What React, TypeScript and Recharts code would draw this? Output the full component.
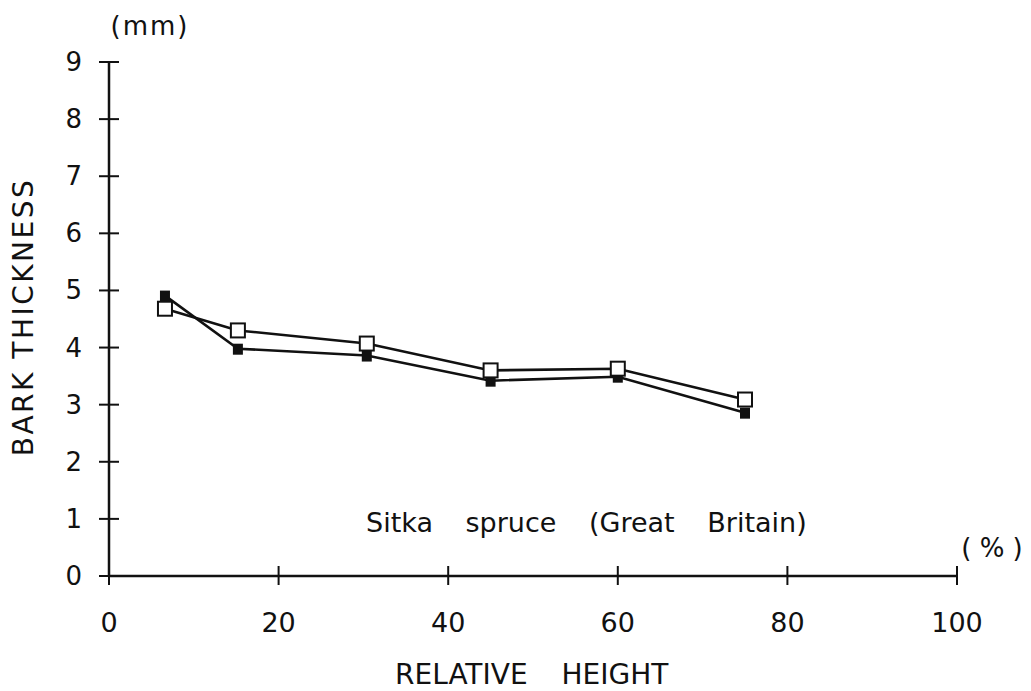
import { Line, LineChart, XAxis, YAxis } from "recharts";

// relative height (%) of each sampling point along the stem
const relativeHeight = [6.6, 15.2, 30.4, 45, 60, 75];
// bark thickness (mm), open-square series
const barkOpen = [4.68, 4.3, 4.07, 3.6, 3.63, 3.09];
// bark thickness (mm), filled-square series
const barkFilled = [4.91, 3.98, 3.86, 3.42, 3.49, 2.86];

const xTicks = [0, 20, 40, 60, 80, 100];
const yTicks = [0, 1, 2, 3, 4, 5, 6, 7, 8, 9];

const data = relativeHeight.map((h, i) => ({
  height: h,
  open: barkOpen[i],
  filled: barkFilled[i],
}));

const FONT = "'DejaVu Sans', Verdana, sans-serif";
const INK = "#111";

function YTick({ x, y, payload }: any) {
  return (
    <g>
      <line x1={x - 10} x2={x + 10} y1={y} y2={y} stroke={INK} strokeWidth={2} />
      <text
        x={x - 27}
        y={y}
        textAnchor="end"
        dominantBaseline="central"
        fontSize={26}
        fontFamily={FONT}
        fill={INK}
      >
        {payload.value}
      </text>
    </g>
  );
}

function XTick({ x, y, payload }: any) {
  return (
    <g>
      <line x1={x} x2={x} y1={y - 10} y2={y + 9} stroke={INK} strokeWidth={2} />
      <text
        x={x}
        y={y + 56}
        textAnchor="middle"
        fontSize={27}
        fontFamily={FONT}
        fill={INK}
      >
        {payload.value}
      </text>
    </g>
  );
}

function FilledSquare({ cx, cy }: any) {
  if (cx == null || cy == null) return null;
  return <rect x={cx - 5} y={cy - 5} width={10} height={11} fill={INK} />;
}

function OpenSquare({ cx, cy }: any) {
  if (cx == null || cy == null) return null;
  return (
    <rect
      x={cx - 7}
      y={cy - 7}
      width={14}
      height={14}
      fill="#fff"
      stroke={INK}
      strokeWidth={2}
    />
  );
}

export default function App() {
  return (
    <div style={{ position: "absolute", left: 0, top: 0, background: "#fff" }}>
      <LineChart
        width={1031}
        height={691}
        data={data}
        margin={{ top: 62, right: 74, bottom: 85, left: 49 }}
      >
        <XAxis
          type="number"
          dataKey="height"
          domain={[0, 100]}
          ticks={xTicks}
          height={30}
          tickSize={0}
          tickMargin={0}
          tickLine={false}
          axisLine={{ stroke: INK, strokeWidth: 2.5 }}
          tick={<XTick />}
        />
        <YAxis
          type="number"
          domain={[0, 9]}
          ticks={yTicks}
          width={60}
          tickSize={0}
          tickMargin={0}
          tickLine={false}
          axisLine={{ stroke: INK, strokeWidth: 2.5 }}
          tick={<YTick />}
        />
        <Line
          type="linear"
          dataKey="filled"
          stroke={INK}
          strokeWidth={2.6}
          dot={<FilledSquare />}
          activeDot={false}
          isAnimationActive={false}
        />
        <Line
          type="linear"
          dataKey="open"
          stroke={INK}
          strokeWidth={2.6}
          dot={<OpenSquare />}
          activeDot={false}
          isAnimationActive={false}
        />
        <text x={150} y={35} textAnchor="middle" fontSize={26} fontFamily={FONT} fill={INK} letterSpacing={2}>
          (mm)
        </text>
        <text x={992} y={557} textAnchor="middle" fontSize={26} fontFamily={FONT} fill={INK} style={{ whiteSpace: "pre" }}>
          ( % )
        </text>
        <text
          x={33}
          y={317}
          transform="rotate(-90 33 317)"
          textAnchor="middle"
          fontSize={28}
          fontFamily={FONT}
          fill={INK}
          letterSpacing={2.5}
        >
          BARK THICKNESS
        </text>
        <text x={395} y={684} textAnchor="start" fontSize={28} fontFamily={FONT} fill={INK} style={{ wordSpacing: 25 }}>
          RELATIVE HEIGHT
        </text>
        <text x={366} y={532} textAnchor="start" fontSize={27} fontFamily={FONT} fill={INK} style={{ wordSpacing: 24 }}>
          Sitka spruce (Great Britain)
        </text>
      </LineChart>
    </div>
  );
}
